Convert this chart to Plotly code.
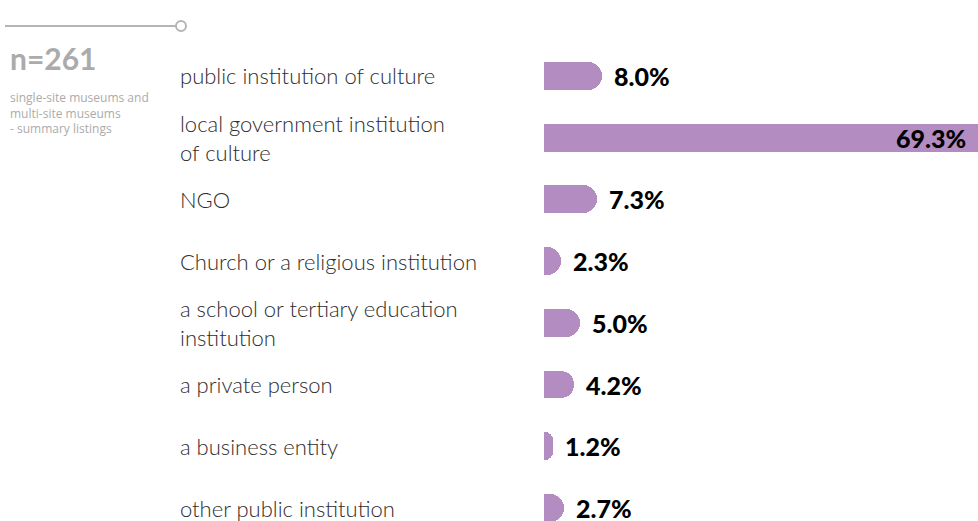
import plotly.graph_objects as go

categories = [
    "public institution of culture",
    "local government institution<br>of culture",
    "NGO",
    "Church or a religious institution",
    "a school or tertiary education<br>institution",
    "a private person",
    "a business entity",
    "other public institution",
]
values = [8.0, 69.3, 7.3, 2.3, 5.0, 4.2, 1.2, 2.7]
sample_label = "n=261"
sample_note = "single-site museums and<br>multi-site museums<br>- summary listings"

W, H = 978, 521
ML, MR, MT, MB = 544, 0, 45, 0
PW, PH = W - ML - MR, H - MT - MB

def px(x):
    return (x - ML) / PW

def py(y):
    return (H - MB - y) / PH

BAR = "#b38cc2"
GREY = "#ababab"

fig = go.Figure()
fig.add_trace(go.Bar(
    x=values,
    y=list(range(len(categories))),
    orientation="h",
    marker=dict(color=BAR, cornerradius=14, line=dict(width=0)),
    width=0.45,
    hoverinfo="skip",
))

XMAX = 60
annotations = []
for i, (c, v) in enumerate(zip(categories, values)):
    annotations.append(dict(
        x=px(178), xref="paper", y=i, yref="y",
        text=c, showarrow=False, xanchor="left", yanchor="middle", align="left",
        font=dict(family="Lato", size=22, color="#2e2e2e", weight=300),
    ))
    label = f"{v:.1f}%"
    if v > XMAX:
        annotations.append(dict(
            x=1, xref="paper", y=i, yref="y", text=label, showarrow=False,
            xanchor="right", yanchor="middle", xshift=-10,
            font=dict(family="Lato", size=25, color="#000000", weight=900),
        ))
    else:
        annotations.append(dict(
            x=v, xref="x", y=i, yref="y", text=label, showarrow=False,
            xanchor="left", yanchor="middle", xshift=10,
            font=dict(family="Lato", size=25, color="#000000", weight=900),
        ))

annotations.append(dict(
    x=px(8), xref="paper", y=py(58), yref="paper", text=sample_label, showarrow=False,
    xanchor="left", yanchor="middle",
    font=dict(family="Lato", size=30, color=GREY, weight=700),
))
annotations.append(dict(
    x=px(8), xref="paper", y=py(87), yref="paper", text=sample_note, showarrow=False,
    xanchor="left", yanchor="top", align="left",
    font=dict(family="Open Sans", size=12, color=GREY),
))

shapes = [
    dict(type="line", xref="paper", yref="paper", x0=px(5), x1=px(176), y0=py(26), y1=py(26),
         line=dict(color="#b5b5b5", width=2)),
    dict(type="circle", xref="paper", yref="paper", x0=px(176), x1=px(186), y0=py(21), y1=py(31),
         line=dict(color="#b5b5b5", width=2), fillcolor="white"),
]

fig.update_layout(
    width=W, height=H,
    margin=dict(l=ML, r=MR, t=MT, b=MB, pad=0),
    paper_bgcolor="white", plot_bgcolor="white",
    showlegend=False,
    xaxis=dict(range=[0, XMAX], visible=False, fixedrange=True),
    yaxis=dict(range=[7.21, -0.5], visible=False, fixedrange=True),
    annotations=annotations,
    shapes=shapes,
    bargap=0,
)

fig.write_html(
    "out.html",
    config={"displayModeBar": False},
    post_script="document.body.style.margin='0';document.body.style.overflow='hidden';",
)
